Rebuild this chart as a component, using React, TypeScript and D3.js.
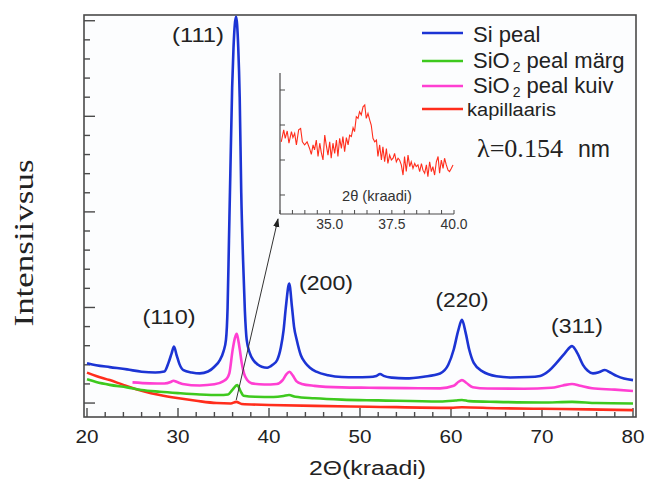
import React from "react";
import * as d3 from "d3";

// XRD patterns, 2θ (deg) vs intensity (arb. units)
const siPeal: [number, number][] = [
  [20, 2.08], [21, 1.98], [22.5, 1.88], [24.4, 1.76], [26, 1.64], [27.5, 1.6], [28.5, 1.65],
  [28.95, 2.1], [29.3, 2.6], [29.56, 2.95], [29.85, 2.5], [30.15, 2.05], [30.6, 1.72], [31.5, 1.6],
  [32.4, 1.55], [33.3, 1.65], [34.0, 1.9], [34.6, 2.25], [35.0, 2.7], [35.27, 3.3], [35.45, 5.0],
  [35.6, 8.5], [35.75, 12], [35.95, 16.5], [36.1, 18.6], [36.38, 20.2], [36.62, 18.6], [36.78, 16],
  [36.95, 11], [37.15, 7.5], [37.35, 4.8], [37.55, 3.3], [37.9, 2.6], [38.27, 2.25], [38.8, 2.0],
  [39.2, 1.9], [39.8, 1.85], [40.4, 2.0], [40.9, 2.25], [41.3, 2.9], [41.6, 3.8], [41.85, 5.0],
  [42.22, 6.25], [42.53, 5.0], [42.75, 4.0], [43.05, 3.3], [43.5, 2.5], [44.0, 2.1], [44.5, 1.85],
  [45.2, 1.64], [46.5, 1.45], [48, 1.36], [49.5, 1.35], [51, 1.36], [51.8, 1.42], [52.2, 1.52],
  [52.6, 1.42], [53.5, 1.33], [55, 1.29], [57, 1.38], [58.8, 1.55], [59.7, 2.0], [60.3, 2.8],
  [60.8, 3.8], [61.2, 4.35], [61.6, 3.7], [62.0, 2.8], [62.5, 2.1], [63.5, 1.64], [65, 1.4],
  [66.5, 1.34], [68.5, 1.36], [69.8, 1.42], [70.8, 1.7], [71.6, 2.1], [72.5, 2.6], [73.3, 2.98],
  [73.9, 2.6], [74.5, 2.0], [75.0, 1.7], [75.6, 1.55], [76.3, 1.62], [76.9, 1.73], [77.5, 1.6],
  [78.2, 1.42], [79.0, 1.28], [80, 1.2],
];

const sio2Marg: [number, number][] = [
  [20, 1.24], [21, 1.1], [22.5, 0.95], [24.4, 0.82], [26, 0.68], [28, 0.59], [30, 0.52],
  [32.4, 0.45], [34.5, 0.42], [35.5, 0.45], [36.0, 0.7], [36.5, 0.94], [36.9, 0.6], [37.2, 0.38],
  [38.5, 0.33], [40.5, 0.32], [41.6, 0.37], [42.2, 0.42], [42.9, 0.33], [45, 0.25], [48, 0.18],
  [52, 0.14], [58.8, 0.08], [60.5, 0.13], [61.2, 0.16], [62, 0.1], [65, 0.06], [70, 0.03],
  [73.3, 0.06], [76, 0.0], [80, -0.02],
];

const sio2Kuiv: [number, number][] = [
  [25.0, 1.08], [26.9, 1.03], [28.5, 1.02], [29.2, 1.1], [29.5, 1.17], [29.9, 1.1], [30.5, 1.0],
  [32.4, 0.92], [34.0, 0.98], [35.0, 1.15], [35.3, 1.25], [35.64, 1.55], [36.0, 2.77], [36.25, 3.4],
  [36.45, 3.62], [36.62, 3.3], [36.8, 2.77], [37.0, 2.1], [37.25, 1.55], [37.6, 1.2], [38.1, 1.03],
  [39.5, 0.97], [40.85, 1.0], [41.5, 1.2], [41.9, 1.5], [42.25, 1.64], [42.6, 1.45], [43.0, 1.15],
  [43.6, 1.0], [45, 0.9], [48, 0.82], [51, 0.8], [55, 0.78], [58.8, 0.77], [60.3, 0.9],
  [60.8, 1.1], [61.2, 1.2], [61.7, 1.05], [62.4, 0.83], [64, 0.76], [68, 0.75], [71, 0.8],
  [72.3, 0.92], [73.3, 1.0], [74.2, 0.9], [75.5, 0.77], [78, 0.7], [80, 0.63],
];

const kapillaaris: [number, number][] = [
  [20, 1.59], [21, 1.42], [22.5, 1.2], [24, 0.95], [26.2, 0.62], [28, 0.42], [29.9, 0.26],
  [32, 0.12], [34.25, 0.0], [35.8, -0.02], [36.4, 0.06], [37, -0.05], [40, -0.1], [45, -0.15],
  [51, -0.19], [60, -0.25], [61.2, -0.22], [65, -0.27], [70, -0.3], [75, -0.33], [80, -0.37],
];

// magnified capillary pattern around 36°
const insetKapillaaris: [number, number][] = [
  [33.05, 2.52], [33.15, 2.86], [33.21, 2.62], [33.29, 2.83], [33.36, 2.48], [33.46, 2.81],
  [33.52, 2.64], [33.59, 2.76], [33.66, 2.43], [33.75, 2.86], [33.83, 2.9], [33.9, 2.52],
  [33.99, 2.43], [34.09, 2.52], [34.19, 2.33], [34.26, 2.16], [34.33, 2.43], [34.39, 2.29],
  [34.46, 2.57], [34.53, 2.1], [34.6, 2.48], [34.66, 2.22], [34.73, 2.0], [34.8, 2.71],
  [34.86, 2.43], [34.93, 2.14], [35.0, 2.52], [35.06, 2.05], [35.13, 2.48], [35.2, 2.19],
  [35.27, 2.57], [35.33, 2.1], [35.4, 2.62], [35.47, 2.33], [35.53, 2.67], [35.6, 2.24],
  [35.67, 2.64], [35.74, 2.43], [35.8, 2.71], [35.87, 2.67], [35.94, 2.92], [36.0, 2.81],
  [36.07, 3.24], [36.14, 3.19], [36.2, 3.38], [36.27, 3.29], [36.34, 3.52], [36.41, 3.57],
  [36.47, 3.19], [36.54, 3.33], [36.61, 3.14], [36.67, 3.0], [36.74, 2.62], [36.81, 2.52],
  [36.88, 2.57], [36.94, 2.1], [37.01, 2.43], [37.08, 2.0], [37.14, 2.38], [37.21, 1.95],
  [37.28, 2.33], [37.34, 1.9], [37.41, 2.14], [37.48, 2.0], [37.55, 2.05], [37.61, 2.19],
  [37.68, 1.95], [37.75, 2.05], [37.81, 2.0], [37.88, 1.86], [37.95, 1.57], [38.01, 2.1],
  [38.08, 1.67], [38.15, 2.14], [38.22, 1.81], [38.28, 1.95], [38.35, 1.76], [38.42, 1.9],
  [38.48, 1.81], [38.55, 1.86], [38.62, 1.67], [38.69, 1.9], [38.75, 1.71], [38.82, 1.62],
  [38.89, 1.86], [38.95, 1.52], [39.02, 1.95], [39.09, 1.67], [39.15, 1.81], [39.22, 1.57],
  [39.29, 1.95], [39.36, 2.1], [39.42, 1.62], [39.49, 2.0], [39.56, 1.76], [39.62, 2.05],
  [39.69, 1.86], [39.76, 1.71], [39.82, 1.67], [39.89, 1.76], [39.96, 1.86],
];

const xTickLabels = [20, 30, 40, 50, 60, 70, 80];
const insetTickLabels = ["35.0", "37.5", "40.0"];
const legendLabels = ["Si peal", "SiO2 peal märg", "SiO2 peal kuiv", "kapillaaris"];
const colors = ["#1c34d4", "#3ec91e", "#ff3fd2", "#ff2d1c"];

const x = d3.scaleLinear().domain([19.67, 80.33]).range([84, 636]);
const y = d3.scaleLinear().domain([-0.73, 20.3]).range([417, 15]);
const ix = d3.scaleLinear().domain([33, 40]).range([280, 454]);
const iy = d3.scaleLinear().domain([0.457, 4.486]).range([214, 73]);

const line = d3.line<[number, number]>().x(d => x(d[0])).y(d => y(d[1])).curve(d3.curveMonotoneX);
const insetLine = d3.line<[number, number]>().x(d => ix(d[0])).y(d => iy(d[1]));

const SANS = "'Liberation Sans', Arial, sans-serif";
const SERIF = "'Liberation Serif', 'Times New Roman', serif";
const AXIS = "#4a4a4a";

function Sub({ label }: { label: string }) {
  // render "SiO2 ..." with a subscript 2
  const i = label.indexOf("O2");
  if (i < 0) return <>{label}</>;
  return (
    <>
      {label.slice(0, i + 1)}
      <tspan dx="3" dy="4" fontSize="14">2</tspan>
      <tspan dy="-4">{label.slice(i + 2)}</tspan>
    </>
  );
}

export default function App() {
  const series = [siPeal, sio2Marg, sio2Kuiv, kapillaaris];
  const drawOrder = [3, 1, 2, 0];
  const xMinor = d3.range(20, 81, 2);
  const yTicks = d3.range(0, 21, 1);
  const insetXTicks = d3.range(33, 40.01, 0.5);
  const insetYTicks = [1, 2, 3, 4];
  const legendLineY = [33, 61, 86, 109];
  const legendTextY = [42, 68, 93, 116];

  const arrowStart: [number, number] = [x(36.4), y(0.16)];
  const arrowEnd: [number, number] = [ix(33) - 2, iy(0.457) + 5];

  return (
    <div style={{ position: "absolute", left: 0, top: 0 }}>
      <svg width={646} height={487} style={{ display: "block", background: "#fff" }}>
        <defs>
          <clipPath id="plot">
            <rect x={84} y={15} width={552} height={402} />
          </clipPath>
          <marker id="head" viewBox="0 0 10 10" refX="9" refY="5" markerWidth="9" markerHeight="9"
            orient="auto" markerUnits="userSpaceOnUse">
            <path d="M0,1.5 L10,5 L0,8.5 Z" fill="#222" />
          </marker>
        </defs>

        {/* frame */}
        <rect x={84} y={15} width={552} height={402} fill="#fcfdfe" stroke={AXIS} strokeWidth={1.6} />

        {/* x ticks */}
        {xMinor.map(t => (
          <line key={`xt${t}`} x1={x(t)} x2={x(t)} y1={417} y2={417 - (t % 10 === 0 ? 9 : 5)}
            stroke={AXIS} strokeWidth={1.4} />
        ))}
        {xTickLabels.map(t => (
          <text key={`xl${t}`} x={x(t)} y={443} textAnchor="middle" fontFamily={SANS} fontSize={19}
            textLength={23} lengthAdjust="spacingAndGlyphs" fill="#222">{t}</text>
        ))}

        {/* y ticks */}
        {yTicks.map(t => (
          <line key={`yt${t}`} x1={84} x2={84 + (t % 5 === 0 ? 11 : 6)} y1={y(t)} y2={y(t)}
            stroke={AXIS} strokeWidth={1.4} />
        ))}

        {/* curves */}
        <g clipPath="url(#plot)">
          {drawOrder.map(i => (
            <path key={`s${i}`} d={line(series[i]) ?? ""} fill="none" stroke={colors[i]} strokeWidth={2.6}
              strokeLinejoin="round" />
          ))}
        </g>

        {/* peak labels */}
        <g fontFamily={SANS} fontSize={20} fill="#222" textAnchor="middle">
          <text x={198} y={42} textLength={52} lengthAdjust="spacingAndGlyphs">(111)</text>
          <text x={169} y={324} textLength={53} lengthAdjust="spacingAndGlyphs">(110)</text>
          <text x={326} y={290} textLength={54} lengthAdjust="spacingAndGlyphs">(200)</text>
          <text x={462} y={307} textLength={53} lengthAdjust="spacingAndGlyphs">(220)</text>
          <text x={577} y={333} textLength={52} lengthAdjust="spacingAndGlyphs">(311)</text>
        </g>

        {/* inset */}
        <g>
          <line x1={280} x2={280} y1={73} y2={214} stroke={AXIS} strokeWidth={1.2} />
          <line x1={280} x2={454} y1={214} y2={214} stroke={AXIS} strokeWidth={1.2} />
          {insetYTicks.map(t => (
            <line key={`iy${t}`} x1={280} x2={285} y1={iy(t)} y2={iy(t)} stroke={AXIS} strokeWidth={1} />
          ))}
          {insetXTicks.map(t => (
            <line key={`ix${t}`} x1={ix(t)} x2={ix(t)} y1={214} y2={210} stroke={AXIS} strokeWidth={1} />
          ))}
          {insetTickLabels.map(t => (
            <text key={`il${t}`} x={ix(+t)} y={229} textAnchor="middle" fontFamily={SANS} fontSize={14}
              textLength={27} lengthAdjust="spacingAndGlyphs" fill="#333">{t}</text>
          ))}
          <text x={377} y={201} textAnchor="middle" fontFamily={SANS} fontSize={14} textLength={70}
            lengthAdjust="spacingAndGlyphs" fill="#333">2θ (kraadi)</text>
          <path d={insetLine(insetKapillaaris) ?? ""} fill="none" stroke={colors[3]} strokeWidth={1.1} />
        </g>

        {/* arrow to the inset */}
        <line x1={arrowStart[0]} y1={arrowStart[1]} x2={arrowEnd[0]} y2={arrowEnd[1]} stroke="#333"
          strokeWidth={1} markerEnd="url(#head)" />

        {/* legend */}
        {legendLabels.map((l, i) => (
          <g key={l}>
            <line x1={422} x2={463} y1={legendLineY[i]} y2={legendLineY[i]} stroke={colors[i]}
              strokeWidth={2.6} />
            <text x={i === 3 ? 467 : 473} y={legendTextY[i]} fontFamily={SANS}
              fontSize={i === 3 ? 18 : 22} fill="#222"
              {...(i === 3 ? { textLength: 89, lengthAdjust: "spacingAndGlyphs" } : {})}>
              <Sub label={l} />
            </text>
          </g>
        ))}

        {/* wavelength */}
        <text x={477} y={157} fontFamily={SERIF} fontSize={26} textLength={86} lengthAdjust="spacingAndGlyphs"
          fill="#222">λ=0.154</text>
        <text x={578} y={157} fontFamily={SANS} fontSize={23} textLength={32} lengthAdjust="spacingAndGlyphs"
          fill="#222">nm</text>

        {/* axis titles */}
        <text x={309} y={475} fontFamily={SANS} fontSize={20} textLength={117} lengthAdjust="spacingAndGlyphs"
          fill="#222">2Θ(kraadi)</text>
        <text transform="translate(33,243) rotate(-90)" textAnchor="middle" fontFamily={SERIF} fontSize={27}
          textLength={167} lengthAdjust="spacingAndGlyphs" fill="#222">Intensiivsus</text>
      </svg>
    </div>
  );
}
